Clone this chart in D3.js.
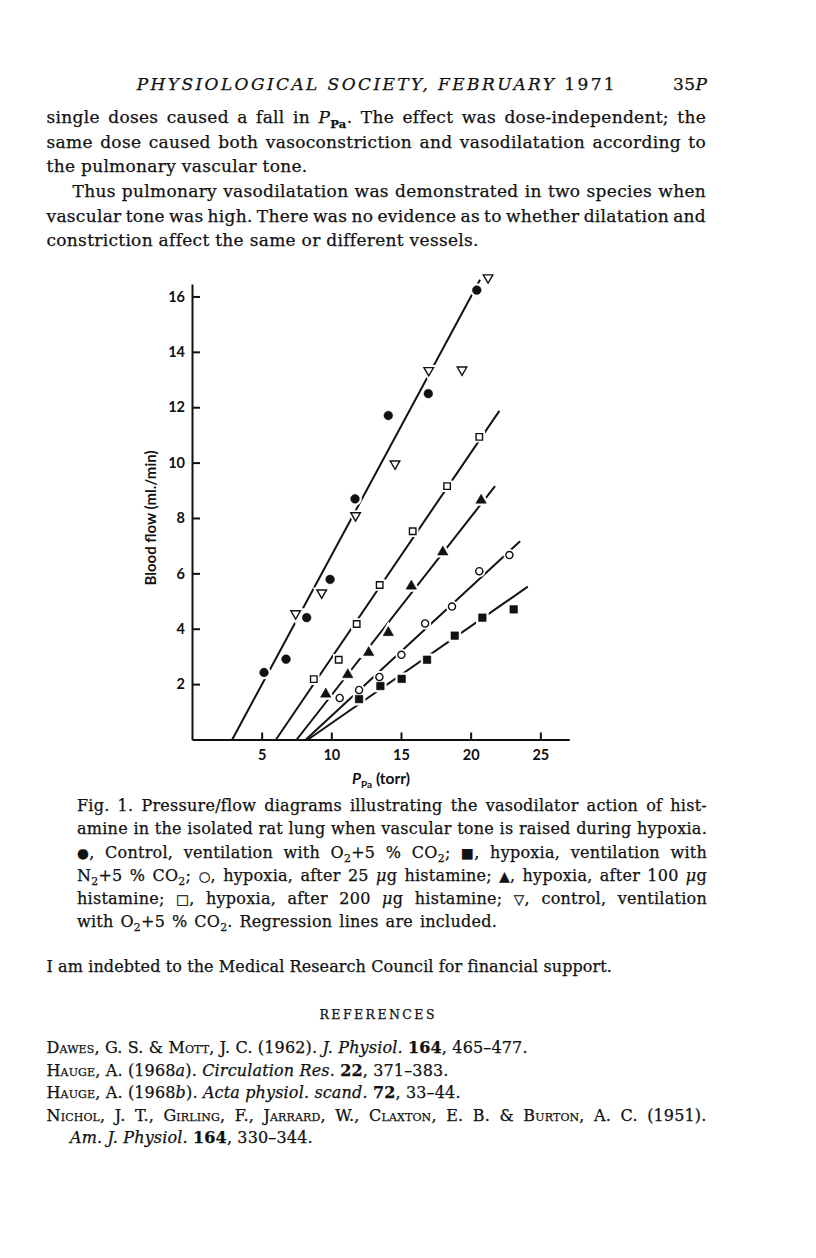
<!DOCTYPE html>
<html>
<head>
<meta charset="utf-8">
<script src="https://cdn.jsdelivr.net/npm/d3@7"></script>
<style>
  body { margin: 0; background: #fff; }
  svg { display: block; }
</style>
</head>
<body>
<div id="page"></div>
<script>
// ---- data (P_Pa in torr, flow in ml./min) ----
var seriesNames = ["Control, O2+5% CO2", "Hypoxia, N2+5% CO2", "Hypoxia, 25 ug histamine",
                   "Hypoxia, 100 ug histamine", "Hypoxia, 200 ug histamine", "Control, O2+5% CO2 (2)"];
var seriesSymbols = ["filledCircle", "filledSquare", "openCircle", "filledTriangle", "openSquare", "openTriangleDown"];

var controlDotP  = [5.17, 6.75, 8.23, 9.91, 11.70, 14.09, 16.96, 20.44];
var controlDotF  = [2.42, 2.90, 4.40, 5.78, 8.69, 11.70, 12.49, 16.23];
var hypoxiaP     = [11.99, 13.52, 15.05, 16.87, 18.86, 20.84, 23.09];
var hypoxiaF     = [1.46, 1.93, 2.19, 2.88, 3.75, 4.40, 4.70];
var hist25P      = [10.60, 11.99, 13.45, 15.03, 16.73, 18.66, 20.62, 22.78];
var hist25F      = [1.50, 1.79, 2.26, 3.06, 4.19, 4.80, 6.08, 6.66];
var hist100P     = [9.60, 11.18, 12.68, 14.09, 15.74, 18.00, 20.75];
var hist100F     = [1.64, 2.34, 3.14, 3.86, 5.54, 6.77, 8.64];
var hist200P     = [8.74, 10.53, 11.82, 13.47, 15.84, 18.31, 20.62];
var hist200F     = [2.18, 2.88, 4.17, 5.58, 7.52, 9.15, 10.93];
var controlTriP  = [7.44, 9.31, 11.74, 14.57, 16.99, 19.38, 21.25];
var controlTriF  = [4.55, 5.30, 8.09, 9.96, 13.33, 13.35, 16.68];

// regression lines: pressure where flow is zero, and the upper end point
var regStartP = [2.89, 6.03, 7.52, 8.18, 8.33];
var regEndP   = [20.67, 22.06, 21.75, 23.55, 24.10];
var regEndF   = [16.60, 11.87, 9.15, 7.16, 5.52];

var xTicks = [5, 10, 15, 20, 25];
var yTicks = [2, 4, 6, 8, 10, 12, 14, 16];
var xMax = 27.08, yMax = 16.45;

var serif = "'DejaVu Serif', 'Liberation Serif', serif";
var sans = "Lato, 'Open Sans', 'DejaVu Sans', sans-serif";
var ink = "#111";

var svg = d3.select("#page").append("svg")
  .attr("width", 816)
  .attr("height", 1258);
svg.append("rect").attr("width", 816).attr("height", 1258).attr("fill", "#fff");

// writes one line of text made of styled pieces; o.len justifies it
// by widening the word gaps (o.letters spreads all glyphs instead)
function writeLine(x, y, segs, o) {
  var t = svg.append("text")
    .attr("x", x).attr("y", y)
    .attr("font-family", o.family || serif)
    .attr("font-size", o.size)
    .attr("fill", ink)
    .attr("stroke", ink)
    .attr("stroke-width", o.weight || 0.25);
  if (o.anchor) t.attr("text-anchor", o.anchor);
  if (o.ls) t.style("letter-spacing", o.ls + "px");
  var shift = 0, full = "";
  segs.forEach(function (s) {
    if (typeof s === "string") s = { t: s };
    full += s.t;
    var sp = t.append("tspan").text(s.t);
    var want = s.sub ? o.size * 0.28 : 0;
    if (want !== shift) { sp.attr("dy", want - shift); shift = want; }
    if (s.it) sp.attr("font-style", "italic");
    if (s.b) sp.attr("font-weight", "bold");
    if (s.sc) sp.style("font-variant", "small-caps");
    if (s.sym) sp.attr("font-family", "'DejaVu Sans', sans-serif").attr("font-size", o.size * 0.85);
    if (s.sub) sp.attr("font-size", o.size * 0.68);
  });
  if (o.len) {
    var gaps = (full.match(/ /g) || []).length;
    if (o.letters || gaps === 0) {
      t.attr("textLength", o.len).attr("lengthAdjust", "spacing");
    } else {
      var natural = t.node().getComputedTextLength();
      t.style("word-spacing", ((o.len - natural) / gaps) + "px");
    }
  }
  return t;
}

// ---- running head and body text ----
writeLine(136.7, 90, [{ t: "PHYSIOLOGICAL SOCIETY, FEBRUARY", it: 1 }, " 1971"], { size: 17, len: 478, letters: 1 });
writeLine(707.5, 90, ["35", { t: "P", it: 1 }], { size: 17, anchor: "end", ls: 0.5 });

var body = { size: 17, ls: 0.3 };
function bodyOpts(len) { return { size: body.size, ls: body.ls, len: len }; }
writeLine(46.5, 123, ["single doses caused a fall in ", { t: "P", it: 1 }, { t: "Pa", sub: 1, b: 1 }, ". The effect was dose-independent; the"], bodyOpts(659.5));
writeLine(46.5, 147.5, ["same dose caused both vasoconstriction and vasodilatation according to"], bodyOpts(659.5));
writeLine(46.5, 172, ["the pulmonary vascular tone."], bodyOpts(0));
writeLine(72.5, 196.8, ["Thus pulmonary vasodilatation was demonstrated in two species when"], bodyOpts(633.5));
writeLine(46.5, 221.5, ["vascular tone was high. There was no evidence as to whether dilatation and"], bodyOpts(659.5));
writeLine(46.5, 246.3, ["constriction affect the same or different vessels."], bodyOpts(0));

// ---- the chart ----
var x = d3.scaleLinear().domain([0, xMax]).range([192, 569.3]);
var y = d3.scaleLinear().domain([0, yMax]).range([739.5, 284]);

var chart = svg.append("g");

chart.append("g")
  .attr("transform", "translate(0," + y(0) + ")")
  .call(d3.axisBottom(x).tickValues(xTicks).tickSizeInner(-7).tickSizeOuter(0).tickPadding(10))
  .call(function (g) {
    g.select(".domain").attr("stroke", ink).attr("stroke-width", 2);
    g.selectAll(".tick line").attr("stroke", ink).attr("stroke-width", 2);
    g.selectAll(".tick text").attr("fill", ink).attr("font-family", sans)
      .attr("font-weight", 700).attr("font-size", 14.5);
  });

chart.append("g")
  .attr("transform", "translate(" + x(0) + ",0)")
  .call(d3.axisLeft(y).tickValues(yTicks).tickSizeInner(-8).tickSizeOuter(0).tickPadding(7))
  .call(function (g) {
    g.select(".domain").attr("stroke", ink).attr("stroke-width", 2);
    g.selectAll(".tick line").attr("stroke", ink).attr("stroke-width", 2);
    g.selectAll(".tick text").attr("fill", ink).attr("font-family", sans)
      .attr("font-weight", 700).attr("font-size", 14.5);
  });

// axis titles
chart.append("text")
  .attr("transform", "translate(156,518) rotate(-90)")
  .attr("text-anchor", "middle")
  .attr("font-family", sans).attr("font-weight", 700).attr("font-size", 15)
  .attr("fill", ink)
  .text("Blood flow (ml./min)");

var xl = chart.append("text")
  .attr("x", 381).attr("y", 784)
  .attr("text-anchor", "middle")
  .attr("font-family", sans).attr("font-weight", 700).attr("font-size", 15.5)
  .attr("fill", ink);
xl.append("tspan").attr("font-style", "italic").text("P");
xl.append("tspan").attr("font-size", 10).attr("dy", 4).text("Pa");
xl.append("tspan").attr("dy", -4).text(" (torr)");

// regression lines
var regs = regStartP.map(function (p, i) {
  return [[p, 0], [regEndP[i], regEndF[i]]];
});
chart.selectAll(".reg")
  .data(regs)
  .enter().append("line")
  .attr("class", "reg")
  .attr("x1", function (d) { return x(d[0][0]); })
  .attr("y1", function (d) { return y(d[0][1]); })
  .attr("x2", function (d) { return x(d[1][0]); })
  .attr("y2", function (d) { return y(d[1][1]); })
  .attr("stroke", ink)
  .attr("stroke-width", 2);

// points
var allP = [controlDotP, hypoxiaP, hist25P, hist100P, hist200P, controlTriP];
var allF = [controlDotF, hypoxiaF, hist25F, hist100F, hist200F, controlTriF];

var symbolStyle = {
  filledCircle:     { type: d3.symbolCircle,   size: 60, fill: ink,    rot: 0 },
  filledSquare:     { type: d3.symbolSquare,   size: 58, fill: ink,    rot: 0 },
  openCircle:       { type: d3.symbolCircle,   size: 40, fill: "#fff", rot: 0 },
  filledTriangle:   { type: d3.symbolTriangle, size: 48, fill: ink,    rot: 0 },
  openSquare:       { type: d3.symbolSquare,   size: 42, fill: "#fff", rot: 0 },
  openTriangleDown: { type: d3.symbolTriangle, size: 40, fill: "#fff", rot: 180 }
};

var points = [];
seriesNames.forEach(function (name, i) {
  allP[i].forEach(function (p, j) {
    points.push({ series: name, sym: seriesSymbols[i], p: p, f: allF[i][j] });
  });
});

function place(d) {
  return "translate(" + x(d.p) + "," + y(d.f) + ") rotate(" + symbolStyle[d.sym].rot + ")";
}
function shape(d) {
  var s = symbolStyle[d.sym];
  return d3.symbol().type(s.type).size(s.size)();
}

// white halo so the lines break around the markers
chart.selectAll(".halo")
  .data(points)
  .enter().append("path")
  .attr("class", "halo")
  .attr("d", shape)
  .attr("transform", place)
  .attr("fill", "#fff")
  .attr("stroke", "#fff")
  .attr("stroke-width", 5);

chart.selectAll(".pt")
  .data(points)
  .enter().append("path")
  .attr("class", "pt")
  .attr("d", shape)
  .attr("transform", place)
  .attr("fill", function (d) { return symbolStyle[d.sym].fill; })
  .attr("stroke", ink)
  .attr("stroke-width", function (d) { return symbolStyle[d.sym].fill === ink ? 0.5 : 1.4; });

// ---- caption ----
function capOpts(len) { return { size: 16, ls: 0.25, len: len }; }
writeLine(77, 811, ["Fig. 1. Pressure/flow diagrams illustrating the vasodilator action of hist-"], capOpts(630));
writeLine(77, 834, ["amine in the isolated rat lung when vascular tone is raised during hypoxia."], capOpts(630));
writeLine(77, 857.5, [{ t: "\u25CF", sym: 1 }, ", Control, ventilation with O", { t: "2", sub: 1 }, "+5 % CO", { t: "2", sub: 1 }, "; ", { t: "\u25A0", sym: 1 }, ", hypoxia, ventilation with"], capOpts(630));
writeLine(77, 881, ["N", { t: "2", sub: 1 }, "+5 % CO", { t: "2", sub: 1 }, "; ", { t: "\u25CB", sym: 1 }, ", hypoxia, after 25 ", { t: "\u03BC", it: 1 }, "g histamine; ", { t: "\u25B2", sym: 1 }, ", hypoxia, after 100 ", { t: "\u03BC", it: 1 }, "g"], capOpts(630));
writeLine(77, 904, ["histamine; ", { t: "\u25A1", sym: 1 }, ", hypoxia, after 200 ", { t: "\u03BC", it: 1 }, "g histamine; ", { t: "\u25BD", sym: 1 }, ", control, ventilation"], capOpts(630));
writeLine(77, 927, ["with O", { t: "2", sub: 1 }, "+5 % CO", { t: "2", sub: 1 }, ". Regression lines are included."], capOpts(420));

writeLine(46.5, 972, ["I am indebted to the Medical Research Council for financial support."], { size: 16, ls: 0.1 });

// ---- references ----
writeLine(377, 1019, ["REFERENCES"], { size: 12.5, anchor: "middle", len: 115, letters: 1 });
function refOpts(len) { return { size: 16, ls: 0.15, len: len }; }
writeLine(46.5, 1053, [{ t: "Dawes", sc: 1 }, ", G. S. & ", { t: "Mott", sc: 1 }, ", J. C. (1962). ", { t: "J. Physiol.", it: 1 }, " ", { t: "164", b: 1 }, ", 465\u2013477."], refOpts(0));
writeLine(46.5, 1075.5, [{ t: "Hauge", sc: 1 }, ", A. (1968", { t: "a", it: 1 }, "). ", { t: "Circulation Res.", it: 1 }, " ", { t: "22", b: 1 }, ", 371\u2013383."], refOpts(0));
writeLine(46.5, 1098, [{ t: "Hauge", sc: 1 }, ", A. (1968", { t: "b", it: 1 }, "). ", { t: "Acta physiol. scand.", it: 1 }, " ", { t: "72", b: 1 }, ", 33\u201344."], refOpts(0));
writeLine(46.5, 1120.5, [{ t: "Nichol", sc: 1 }, ", J. T., ", { t: "Girling", sc: 1 }, ", F., ", { t: "Jarrard", sc: 1 }, ", W., ", { t: "Claxton", sc: 1 }, ", E. B. & ", { t: "Burton", sc: 1 }, ", A. C. (1951)."], refOpts(660));
writeLine(70, 1143, [{ t: "Am. J. Physiol.", it: 1 }, " ", { t: "164", b: 1 }, ", 330\u2013344."], refOpts(0));
</script>
</body>
</html>
